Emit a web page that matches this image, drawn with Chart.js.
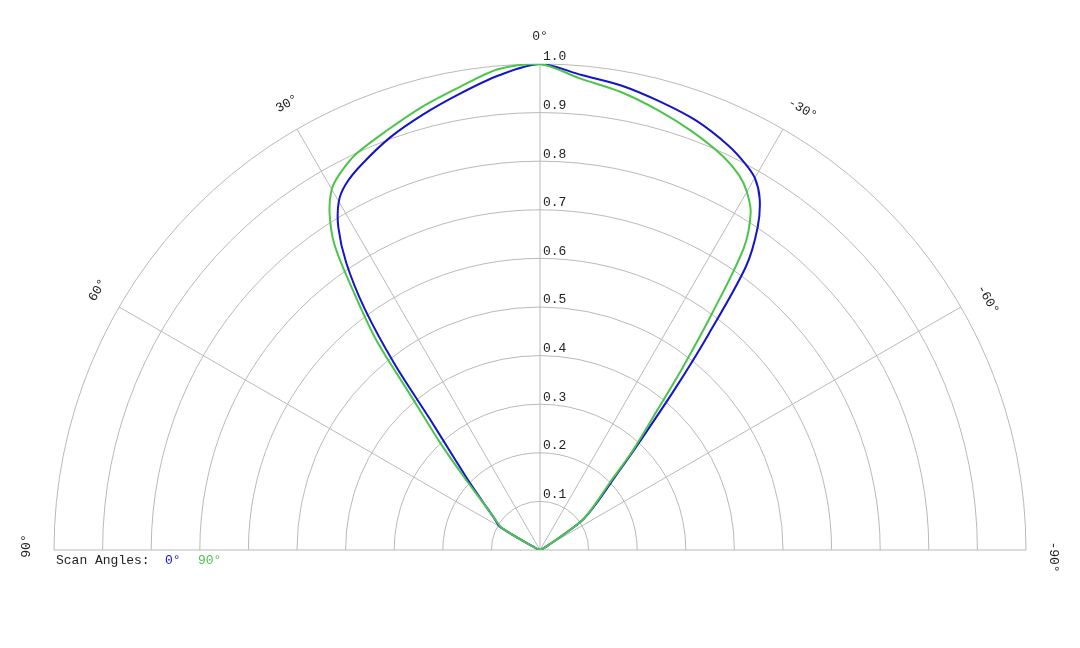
<!DOCTYPE html>
<html>
<head>
<meta charset="utf-8">
<script src="https://cdn.jsdelivr.net/npm/chart.js@4.4.0/dist/chart.umd.min.js"></script>
<style>
  html, body { margin: 0; padding: 0; background: #fff; }
  #chart { display: block; }
</style>
</head>
<body>
<canvas id="chart" width="1080" height="648"></canvas>
<script>
// polar angles (deg), positive = left half
const angles = [-90, -80, -70, -60, -55, -50, -46, -43, -40, -38, -36, -34, -32, -30, -28, -25, -20, -15, -10, -5,
  0, 5, 10, 15, 20, 25, 28, 30, 32, 34, 36, 38, 40, 43, 46, 50, 55, 60, 70, 80, 90];

// relative intensity, scan angle 0°
const scan0 = [0, 0, 0.003, 0.02, 0.105, 0.155, 0.21, 0.29, 0.43, 0.563, 0.721, 0.801, 0.853, 0.884, 0.90, 0.918, 0.94, 0.955, 0.97, 0.981,
  1.0, 0.98, 0.953, 0.928, 0.903, 0.873, 0.852, 0.828, 0.783, 0.713, 0.614, 0.487, 0.355, 0.259, 0.204, 0.153, 0.116, 0.094, 0.005, 0, 0];

// relative intensity, scan angle 90°
const scan90 = [0, 0, 0.003, 0.02, 0.105, 0.15, 0.20, 0.28, 0.375, 0.478, 0.604, 0.75, 0.818, 0.851, 0.873, 0.893, 0.916, 0.937, 0.957, 0.973,
  1.0, 0.993, 0.966, 0.943, 0.919, 0.898, 0.877, 0.857, 0.817, 0.755, 0.646, 0.545, 0.41, 0.30, 0.22, 0.155, 0.115, 0.09, 0.005, 0, 0];

const ringTicks = [0.1, 0.2, 0.3, 0.4, 0.5, 0.6, 0.7, 0.8, 0.9, 1.0];
const spokeAngles = [-60, -30, 0, 30, 60];
const angleLabels = [90, 60, 30, 0, -30, -60, -90];

const FONT = '13px "Liberation Mono", "DejaVu Sans Mono", monospace';
const GRID = '#b9b9b9';
const BLUE = '#1414c8';
const GREEN = '#4cc44c';

const rad = (d) => d * Math.PI / 180;

// polar -> cartesian (value space, not pixels)
function toXY(values) {
  return angles.map((a, i) => ({
    x: -values[i] * Math.sin(rad(a)),
    y: values[i] * Math.cos(rad(a)),
  }));
}

// rings, spokes, labels drawn from the chart scales
const polarGrid = {
  id: 'polarGrid',
  beforeDatasetsDraw(chart) {
    const { ctx, scales: { x, y } } = chart;
    const cx = x.getPixelForValue(0);
    const cy = y.getPixelForValue(0);
    const R = x.getPixelForValue(1) - cx;

    ctx.save();
    ctx.strokeStyle = GRID;
    ctx.lineWidth = 1;

    ringTicks.forEach((t) => {
      ctx.beginPath();
      ctx.arc(cx, cy, t * R, Math.PI, 2 * Math.PI);
      ctx.stroke();
    });

    // baseline (+-90)
    ctx.beginPath();
    ctx.moveTo(x.getPixelForValue(-1), cy);
    ctx.lineTo(x.getPixelForValue(1), cy);
    ctx.stroke();

    spokeAngles.forEach((a) => {
      ctx.beginPath();
      ctx.moveTo(cx, cy);
      ctx.lineTo(x.getPixelForValue(-Math.sin(rad(a))), y.getPixelForValue(Math.cos(rad(a))));
      ctx.stroke();
    });

    // ring values
    ctx.font = FONT;
    ctx.fillStyle = '#222';
    ctx.textAlign = 'left';
    ctx.textBaseline = 'middle';
    ringTicks.forEach((t) => {
      ctx.fillText(t.toFixed(1), cx + 3, y.getPixelForValue(t) - 7);
    });

    // angle labels, rotated along the circle
    ctx.textAlign = 'center';
    const lr = R + 27;
    angleLabels.forEach((a) => {
      const px = cx - lr * Math.sin(rad(a));
      const py = cy - lr * Math.cos(rad(a));
      const shift = a > 0 ? 4 : (a < 0 ? 7 : 0);
      ctx.save();
      ctx.translate(px, py);
      ctx.rotate(-rad(a));
      ctx.fillText(a + '°', shift, 0);
      ctx.restore();
    });

    // legend
    ctx.textAlign = 'left';
    const ly = cy + 11;
    const lx = x.getPixelForValue(-1) + 2;
    ctx.fillStyle = '#222';
    ctx.fillText('Scan Angles:', lx, ly);
    ctx.fillStyle = BLUE;
    ctx.fillText('0°', lx + 109, ly);
    ctx.fillStyle = GREEN;
    ctx.fillText('90°', lx + 142, ly);
    ctx.restore();
  },
};

new Chart(document.getElementById('chart'), {
  type: 'scatter',
  data: {
    datasets: [
      {
        label: '90°',
        data: toXY(scan90),
        showLine: true,
        borderColor: GREEN,
        borderWidth: 2,
        pointRadius: 0,
        tension: 0.3,
        order: 0,
      },
      {
        label: '0°',
        data: toXY(scan0),
        showLine: true,
        borderColor: BLUE,
        borderWidth: 2,
        pointRadius: 0,
        tension: 0.3,
        order: 1,
      },
    ],
  },
  options: {
    responsive: false,
    animation: false,
    layout: { padding: { left: 54, right: 54, top: 64, bottom: 98 } },
    scales: {
      x: { type: 'linear', min: -1, max: 1, display: false },
      y: { type: 'linear', min: 0, max: 1, display: false },
    },
    plugins: {
      legend: { display: false },
      tooltip: { enabled: false },
    },
  },
  plugins: [polarGrid],
});
</script>
</body>
</html>
